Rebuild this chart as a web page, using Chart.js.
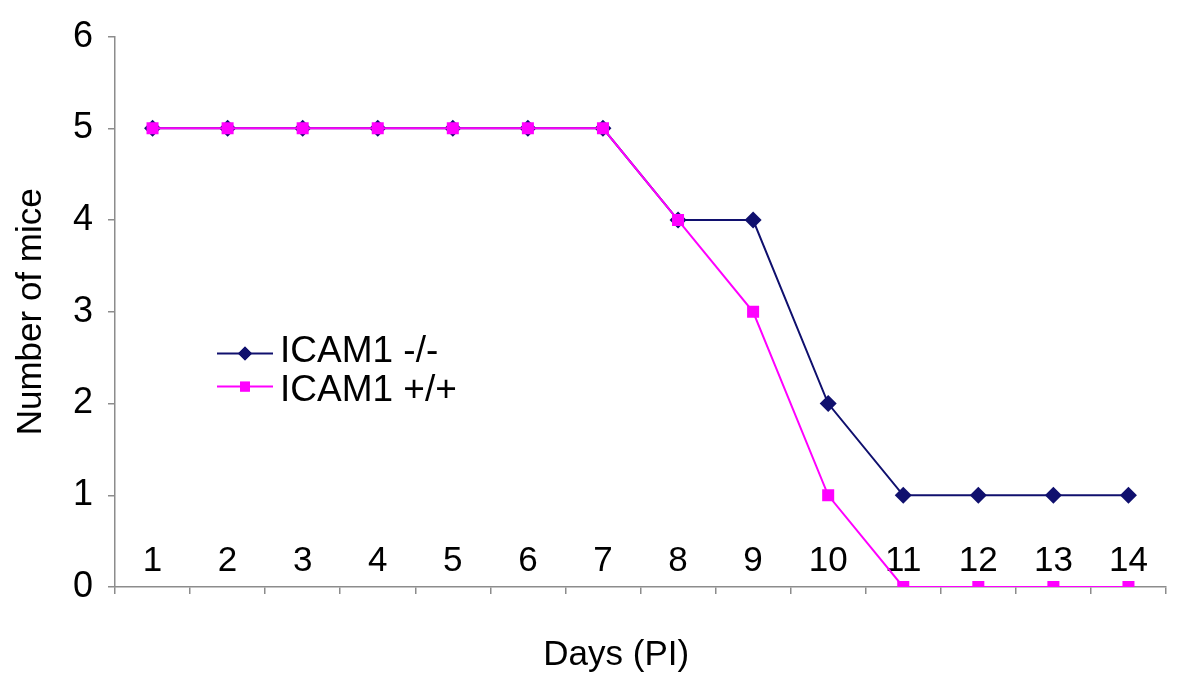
<!DOCTYPE html>
<html>
<head>
<meta charset="utf-8">
<script src="https://cdn.jsdelivr.net/npm/chart.js@4"></script>
<style>
  html, body { margin: 0; padding: 0; background: #fff; }
  #wrap { width: 1200px; height: 688px; }
</style>
</head>
<body>
<div id="wrap"><canvas id="chart" width="1200" height="688"></canvas></div>
<script>
const days = ["1","2","3","4","5","6","7","8","9","10","11","12","13","14"];
const knockout = [5,5,5,5,5,5,5,4,4,2,1,1,1,1];   // ICAM1 -/-
const wildtype = [5,5,5,5,5,5,5,4,3,1,0,0,0,0];   // ICAM1 +/+
const yTicks = [0,1,2,3,4,5,6];

const NAVY = '#10106e';
const MAGENTA = '#ff00ff';
const AXIS = '#8c8c8c';
const FONT = 'Liberation Sans, Arial, sans-serif';

/* legend drawn inside the plot, like the original */
const insideLegend = {
  id: 'insideLegend',
  afterDatasetsDraw(chart) {
    const ctx = chart.ctx;
    const a = chart.chartArea;
    const x0 = a.left + 102;
    const lineY = [a.top + 317, a.top + 350];
    const textY = [a.top + 315, a.top + 354];
    ctx.save();
    [0, 1].forEach(i => {
      const ds = chart.data.datasets[i];
      const y = lineY[i];
      ctx.strokeStyle = ds.borderColor;
      ctx.lineWidth = 2;
      ctx.beginPath();
      ctx.moveTo(x0, y);
      ctx.lineTo(x0 + 56, y);
      ctx.stroke();
      ctx.fillStyle = ds.borderColor;
      ctx.beginPath();
      Chart.helpers.drawPoint(ctx, {pointStyle: ds.pointStyle, radius: 7, borderWidth: 0}, x0 + 28, y);
      ctx.fill();
      ctx.fillStyle = '#000';
      ctx.font = '37px ' + FONT;
      ctx.textBaseline = 'middle';
      ctx.textAlign = 'left';
      ctx.fillText(ds.label, x0 + 63, textY[i]);
    });
    ctx.restore();
  }
};

new Chart(document.getElementById('chart'), {
  type: 'line',
  data: {
    labels: days,
    datasets: [
      {
        label: 'ICAM1 -/-',
        data: knockout,
        borderColor: NAVY,
        backgroundColor: NAVY,
        borderWidth: 2,
        pointStyle: 'rectRot',
        pointRadius: 8.5,
        pointBorderWidth: 0,
        tension: 0,
        order: 2
      },
      {
        label: 'ICAM1 +/+',
        data: wildtype,
        borderColor: MAGENTA,
        backgroundColor: MAGENTA,
        borderWidth: 2,
        pointStyle: 'rect',
        pointRadius: 8.5,
        pointBorderWidth: 0,
        tension: 0,
        order: 1
      }
    ]
  },
  options: {
    responsive: false,
    animation: false,
    layout: { padding: { left: 0, right: 34, top: 35, bottom: 0 } },
    plugins: {
      legend: { display: false },
      tooltip: { enabled: false }
    },
    scales: {
      x: {
        offset: true,
        afterFit: s => { s.height = 101; },
        grid: {
          offset: true,
          drawOnChartArea: false,
          drawTicks: true,
          tickLength: 7,
          color: AXIS,
          lineWidth: 1.5
        },
        border: { color: AXIS, width: 1.5 },
        ticks: {
          mirror: true,   // labels sit inside the plot, above the axis
          padding: 5,
          maxRotation: 0,
          autoSkip: false,
          color: '#000',
          font: { family: FONT, size: 35 }
        },
        title: {
          display: true,
          // trailing spaces nudge the centred title left, as in the original
          text: 'Days (PI)\u00a0\u00a0\u00a0\u00a0\u00a0',
          color: '#000',
          font: { family: FONT, size: 35 },
          padding: { top: 4, bottom: 12 }
        }
      },
      y: {
        min: 0,
        max: 6,
        afterFit: s => { s.width = 115; },
        afterBuildTicks: s => { s.ticks = yTicks.map(v => ({ value: v })); },
        grid: {
          drawOnChartArea: false,
          tickLength: 7,
          color: AXIS,
          lineWidth: 1.5
        },
        border: { color: AXIS, width: 1.5 },
        ticks: {
          padding: 15,
          color: '#000',
          font: { family: FONT, size: 36 }
        },
        title: {
          display: true,
          text: 'Number of mice',
          color: '#000',
          font: { family: FONT, size: 35 },
          padding: { top: 10, bottom: 0 }
        }
      }
    }
  },
  plugins: [insideLegend]
});
</script>
</body>
</html>
